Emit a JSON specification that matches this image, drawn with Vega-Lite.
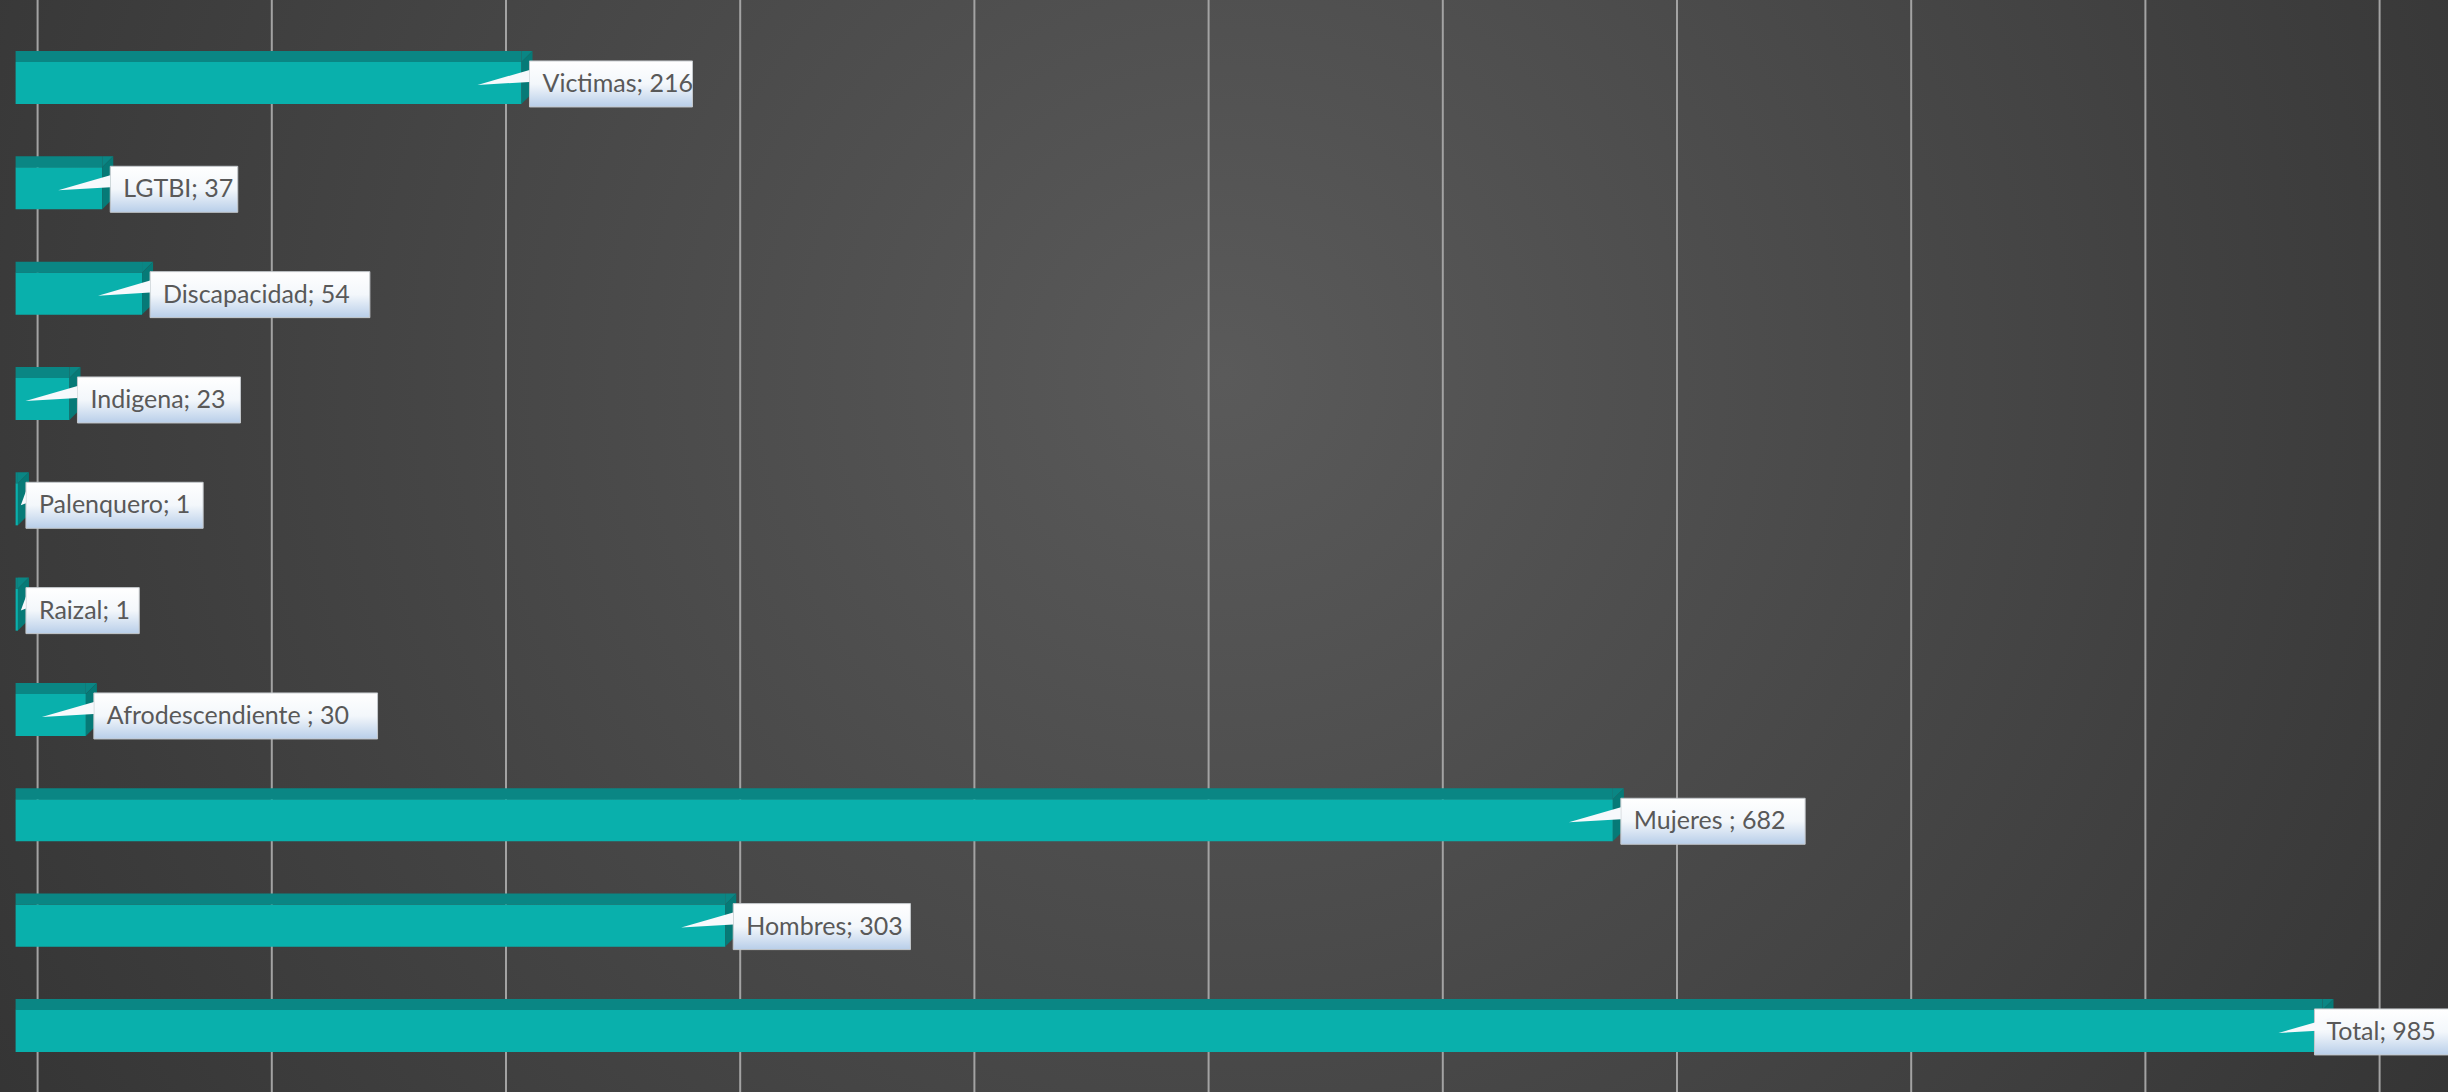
{
  "$schema": "https://vega.github.io/schema/vega-lite/v6.json",
  "width": 2448,
  "height": 1092,
  "autosize": "none",
  "padding": 0,
  "background": "#3a3a3a",
  "config": {
    "view": {
      "stroke": null,
      "fill": {
        "gradient": "radial",
        "x1": 0.5, "y1": 0.43, "r1": 0,
        "x2": 0.5, "y2": 0.43, "r2": 0.75,
        "stops": [
          {"offset": 0, "color": "#5a5a5a"},
          {"offset": 1, "color": "#2a2a2a"}
        ]
      }
    },
    "font": "Lato"
  },
  "data": {
    "values": [
      {"cat": "Victimas", "value": 216},
      {"cat": "LGTBI", "value": 37},
      {"cat": "Discapacidad", "value": 54},
      {"cat": "Indigena", "value": 23},
      {"cat": "Palenquero", "value": 1},
      {"cat": "Raizal", "value": 1},
      {"cat": "Afrodescendiente ", "value": 30},
      {"cat": "Mujeres ", "value": 682},
      {"cat": "Hombres", "value": 303},
      {"cat": "Total", "value": 985}
    ]
  },
  "transform": [
    {"calculate": "datum.cat + '; ' + datum.value", "as": "label"},
    {"calculate": "datum.value + (29 + 14.2 * (length(datum.label) - 0.5 * length(replace(datum.label, regexp('[^iltI1;: ]', 'g'), '')))) / 2.342", "as": "boxEnd"}
  ],
  "layer": [
    {
      "data": {"values": [{"g": 0}, {"g": 100}, {"g": 200}, {"g": 300}, {"g": 400}, {"g": 500}, {"g": 600}, {"g": 700}, {"g": 800}, {"g": 900}, {"g": 1000}]},
      "mark": {"type": "rule", "color": "#a3a3a3", "strokeWidth": 2, "xOffset": 22},
      "encoding": {
        "x": {"field": "g", "type": "quantitative", "axis": null, "scale": {"domain": [-6.66, 1038.6], "nice": false, "zero": false}}
      }
    },
    {
      "mark": {"type": "bar", "color": "#09b0ac"},
      "encoding": {
        "x": {"field": "value", "type": "quantitative", "axis": null, "scale": {"domain": [-6.66, 1038.6], "nice": false, "zero": false}},
        "y": {"field": "cat", "type": "nominal", "sort": null, "axis": null, "scale": {"range": [30.3, 1083.6], "paddingInner": 0.6, "paddingOuter": 0.3}}
      }
    },
    {
      "mark": {"type": "bar", "color": "#0a8684", "height": 11, "yOffset": -26.5},
      "encoding": {
        "x": {"field": "value", "type": "quantitative", "axis": null, "scale": {"domain": [-6.66, 1038.6], "nice": false, "zero": false}},
        "y": {"field": "cat", "type": "nominal", "sort": null, "axis": null, "scale": {"range": [30.3, 1083.6], "paddingInner": 0.6, "paddingOuter": 0.3}}
      }
    },
    {
      "mark": {"type": "point", "filled": true, "opacity": 1, "strokeWidth": 0, "color": "#0a8684", "size": 4096, "shape": "M0,-0.656L0.344,-1L0,-1Z"},
      "encoding": {
        "x": {"field": "value", "type": "quantitative", "axis": null, "scale": {"domain": [-6.66, 1038.6], "nice": false, "zero": false}},
        "y": {"field": "cat", "type": "nominal", "sort": null, "axis": null, "scale": {"range": [30.3, 1083.6], "paddingInner": 0.6, "paddingOuter": 0.3}}
      }
    },
    {
      "mark": {"type": "point", "filled": true, "opacity": 1, "strokeWidth": 0, "color": "#067a77", "size": 4096, "shape": "M0,-0.656L0.344,-1L0.344,0.3125L0,0.656Z"},
      "encoding": {
        "x": {"field": "value", "type": "quantitative", "axis": null, "scale": {"domain": [-6.66, 1038.6], "nice": false, "zero": false}},
        "y": {"field": "cat", "type": "nominal", "sort": null, "axis": null, "scale": {"range": [30.3, 1083.6], "paddingInner": 0.6, "paddingOuter": 0.3}}
      }
    },
    {
      "transform": [{"filter": "datum.cat != 'Total'"}],
      "mark": {
        "type": "bar",
        "height": 46,
        "yOffset": 1,
        "xOffset": 8,
        "clip": true,
        "stroke": "#c4c8cc",
        "strokeWidth": 1,
        "fill": {
          "gradient": "linear",
          "x1": 0, "y1": 0, "x2": 0, "y2": 1,
          "stops": [
            {"offset": 0, "color": "#ffffff"},
            {"offset": 0.5, "color": "#f3f7fb"},
            {"offset": 1, "color": "#b8cee9"}
          ]
        }
      },
      "encoding": {
        "x": {"field": "value", "type": "quantitative", "axis": null, "scale": {"domain": [-6.66, 1038.6], "nice": false, "zero": false}},
        "x2": {"field": "boxEnd"},
        "y": {"field": "cat", "type": "nominal", "sort": null, "axis": null, "scale": {"range": [30.3, 1083.6], "paddingInner": 0.6, "paddingOuter": 0.3}}
      }
    },
    {
      "transform": [{"filter": "datum.cat == 'Total'"}],
      "mark": {
        "type": "bar",
        "height": 46,
        "yOffset": 1,
        "xOffset": -8,
        "clip": true,
        "stroke": "#c4c8cc",
        "strokeWidth": 1,
        "fill": {
          "gradient": "linear",
          "x1": 0, "y1": 0, "x2": 0, "y2": 1,
          "stops": [
            {"offset": 0, "color": "#ffffff"},
            {"offset": 0.5, "color": "#f3f7fb"},
            {"offset": 1, "color": "#b8cee9"}
          ]
        }
      },
      "encoding": {
        "x": {"field": "value", "type": "quantitative", "axis": null, "scale": {"domain": [-6.66, 1038.6], "nice": false, "zero": false}},
        "x2": {"field": "boxEnd"},
        "y": {"field": "cat", "type": "nominal", "sort": null, "axis": null, "scale": {"range": [30.3, 1083.6], "paddingInner": 0.6, "paddingOuter": 0.3}}
      }
    },
    {
      "transform": [{"filter": "datum.value >= 5"}],
      "mark": {"type": "point", "filled": true, "opacity": 1, "strokeWidth": 0, "color": "#f7f9fc", "size": 9216, "shape": "M-0.917,0.042L0.167,-0.271L0.167,-0.021Z"},
      "encoding": {
        "x": {"field": "value", "type": "quantitative", "axis": null, "scale": {"domain": [-6.66, 1038.6], "nice": false, "zero": false}},
        "y": {"field": "cat", "type": "nominal", "sort": null, "axis": null, "scale": {"range": [30.3, 1083.6], "paddingInner": 0.6, "paddingOuter": 0.3}}
      }
    },
    {
      "transform": [{"filter": "datum.value < 5"}],
      "mark": {"type": "point", "filled": true, "opacity": 1, "strokeWidth": 0, "color": "#f7f9fc", "size": 9216, "shape": "M0.06,0.02L0.167,-0.271L0.167,-0.021Z"},
      "encoding": {
        "x": {"field": "value", "type": "quantitative", "axis": null, "scale": {"domain": [-6.66, 1038.6], "nice": false, "zero": false}},
        "y": {"field": "cat", "type": "nominal", "sort": null, "axis": null, "scale": {"range": [30.3, 1083.6], "paddingInner": 0.6, "paddingOuter": 0.3}}
      }
    },
    {
      "transform": [{"filter": "datum.cat != 'Total'"}],
      "mark": {"type": "text", "align": "left", "baseline": "alphabetic", "dx": 21, "dy": 9, "fontSize": 25, "color": "#595959", "clip": true},
      "encoding": {
        "x": {"field": "value", "type": "quantitative", "axis": null, "scale": {"domain": [-6.66, 1038.6], "nice": false, "zero": false}},
        "y": {"field": "cat", "type": "nominal", "sort": null, "axis": null, "scale": {"range": [30.3, 1083.6], "paddingInner": 0.6, "paddingOuter": 0.3}},
        "text": {"field": "label", "type": "nominal"}
      }
    },
    {
      "transform": [{"filter": "datum.cat == 'Total'"}],
      "mark": {"type": "text", "align": "left", "baseline": "alphabetic", "dx": 4, "dy": 9, "fontSize": 25, "color": "#595959", "clip": true},
      "encoding": {
        "x": {"field": "value", "type": "quantitative", "axis": null, "scale": {"domain": [-6.66, 1038.6], "nice": false, "zero": false}},
        "y": {"field": "cat", "type": "nominal", "sort": null, "axis": null, "scale": {"range": [30.3, 1083.6], "paddingInner": 0.6, "paddingOuter": 0.3}},
        "text": {"field": "label", "type": "nominal"}
      }
    }
  ]
}
